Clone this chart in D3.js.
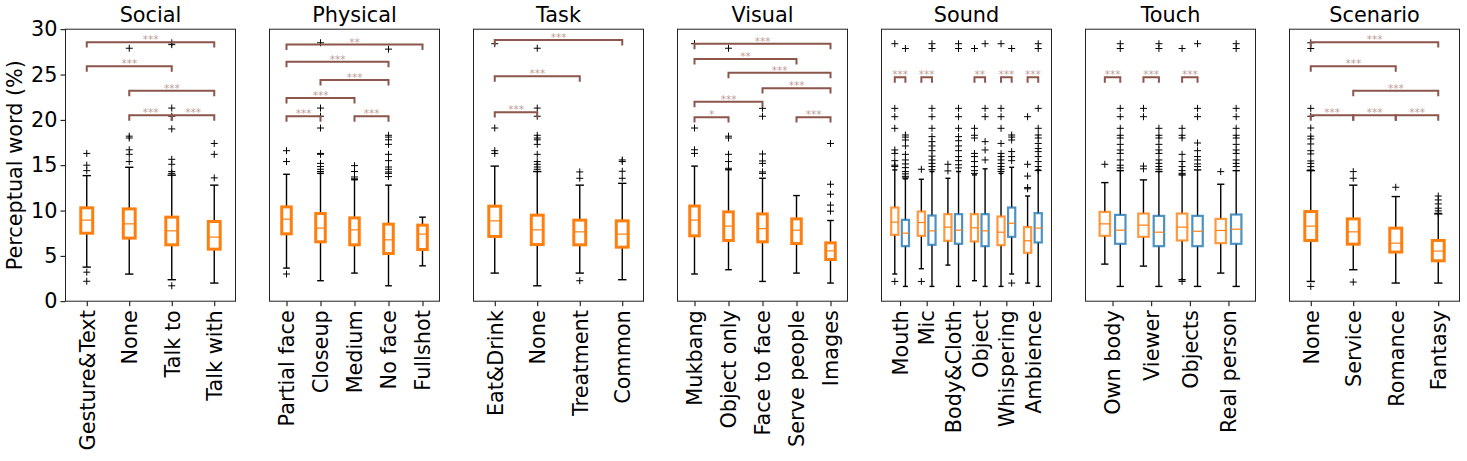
<!DOCTYPE html>
<html><head><meta charset="utf-8">
<script src="https://cdn.jsdelivr.net/npm/d3@7"></script>
<style>body{margin:0;background:#fff}svg{display:block}text{font-family:"DejaVu Sans",sans-serif}</style>
</head><body><svg id="c" width="1467" height="461"></svg>
<script>
// ---------- DATA ----------  stats rows: [whisker low, q1, median, q3, whisker high]
const yTicks = [0, 5, 10, 15, 20, 25, 30];

const socialCats = ["Gesture&Text", "None", "Talk to", "Talk with"];
const socialStats = [[3.76,7.5,8.94,10.3,13.85],[2.99,6.96,8.53,10.18,14.77],[2.37,6.22,7.76,9.27,13.9],[2.0,5.74,7.07,8.79,12.8]];
const socialFliers = [[16.3,15.0,14.4,3.2,2.2],[27.9,18.2,18.0,16.7,16.2,15.4],[28.5,28.3,21.3,20.4,19.0,15.65,15.1,14.3,14.1,1.7],[17.4,16.2,13.6]];
const socialSig = [[1,4,28.57,"***"],[1,3,25.9,"***"],[2,4,23.2,"***"],[2,3,20.5,"***"],[3,4,20.5,"***"]];

const physicalCats = ["Partial face", "Closeup", "Medium", "No face", "Fullshot"];
const physicalStats = [[3.65,7.43,9.05,10.4,14.0],[2.26,6.55,8.06,9.67,14.1],[3.1,6.22,7.87,9.19,13.4],[1.7,5.26,6.77,8.5,12.8],[3.9,5.7,7.4,8.39,9.27]];
const physicalFliers = [[16.6,15.4,3.0],[28.5,21.3,20.4,19.1,16.3,16.2,15.2,14.85,14.55,14.3],[14.95,14.3,13.7,13.5],[27.8,18.3,18.1,17.8,17.3,16.2,15.5,14.8,14.55,14.26,14.1,13.74],[]];
const physicalSig = [[1,5,28.3,"**"],[1,4,26.4,"***"],[2,4,24.4,"***"],[1,3,22.4,"***"],[1,2,20.4,"***"],[3,4,20.4,"***"]];

const taskCats = ["Eat&Drink", "None", "Treatment", "Common"];
const taskStats = [[3.1,7.14,8.86,10.48,14.9],[1.7,6.25,7.87,9.49,14.3],[3.1,6.22,7.65,8.94,12.8],[2.37,5.96,7.4,8.86,13.0]];
const taskFliers = [[28.4,19.1,16.6,16.3],[27.9,21.3,20.4,18.3,18.0,17.8,17.3,16.2,15.4,15.1,14.8,14.55],[14.26,13.56,2.26],[15.58,15.4,14.33,13.56]];
const taskSig = [[1,4,28.8,"***"],[1,3,24.8,"***"],[1,2,20.85,"***"]];

const visualCats = ["Mukbang", "Object only", "Face to face", "Serve people", "Images"];
const visualStats = [[3.0,7.21,8.94,10.5,14.9],[3.47,6.7,8.28,9.85,14.5],[2.18,6.55,8.0,9.63,13.56],[3.1,6.36,7.83,9.08,11.65],[2.0,4.6,5.56,6.44,8.9]];
const visualFliers = [[28.4,19.1,16.7,16.3],[27.9,18.2,18.0,16.2,15.4,14.66],[21.27,20.4,16.24,15.47,15.2,14.26,14.1],[],[17.4,12.9,11.8,10.6,9.93]];
const visualSig = [[1,5,28.4,"***"],[1,4,26.7,"**"],[2,5,25.2,"***"],[3,5,23.5,"***"],[1,3,22.0,"***"],[1,2,20.3,"*"],[4,5,20.3,"***"]];

const soundCats = ["Mouth", "Mic", "Body&Cloth", "Object", "Whispering", "Ambience"];
const soundOrangeStats = [[3.0,7.32,8.72,10.33,14.48],[3.58,7.21,8.68,9.89,13.45],[3.98,6.66,8.17,9.6,13.56],[2.26,6.59,8.09,9.6,13.93],[1.63,6.18,7.61,9.34,14.1],[2.0,5.34,6.66,8.17,11.6]];
const soundOrangeFliers = [[28.4,21.27,20.35,19.07,16.68,16.3,15.5,15.0,14.85,2.18],[14.55,2.18],[15.1,14.37],[27.87,19.07,18.3,18.0,16.3,15.95,15.4,14.85,14.4,14.1],[28.4,21.27,20.35,19.07,17.4,16.3,15.95,15.58,15.2,14.85,14.55,14.3],[20.35,15.1,13.8,12.53,12.4]];
const soundBlueStats = [[1.63,6.07,7.5,8.97,13.5],[1.63,6.22,7.76,9.45,14.3],[1.63,6.33,7.83,9.6,14.3],[1.63,6.07,7.76,9.6,14.6],[3.0,7.1,8.6,10.33,14.77],[1.63,6.48,8.06,9.71,14.48]];
const soundBlueFliers = [[27.87,18.33,18.1,17.78,17.12,16.2,15.58,15.14,14.73,14.29,14.04,13.77,13.6],[28.4,27.87,21.27,20.35,19.07,18.15,17.6,17.12,16.6,16.0,15.58,15.2,14.85,14.5],[28.4,27.87,21.27,20.35,19.07,18.15,17.7,17.12,16.6,15.95,15.5,15.05,14.7],[28.4,21.27,20.35,17.6,16.68,15.58],[27.87,18.33,18.1,17.78,16.5,15.95,15.5,2.0],[28.4,27.87,21.27,19.07,18.33,18.0,17.4,16.85,16.5,15.95,15.4,14.85,14.4]];
const soundSig = [[1,24.7,"***"],[2,24.7,"***"],[4,24.7,"**"],[5,24.7,"***"],[6,24.7,"***"]];

const touchCats = ["Own body", "Viewer", "Objects", "Real person"];
const touchOrangeStats = [[4.09,7.21,8.53,9.85,13.08],[3.87,7.1,8.39,9.67,13.38],[2.37,6.7,8.17,9.67,13.93],[3.1,6.4,7.8,9.08,12.9]];
const touchOrangeFliers = [[15.1],[21.27,20.35,14.9,14.6],[27.87,19.07,18.3,18.0,16.2,15.4,14.85,14.4,14.1,2.18],[14.29]];
const touchBlueStats = [[1.63,6.33,7.83,9.52,14.4],[1.63,6.07,7.61,9.41,14.3],[1.63,6.07,7.72,9.41,14.48],[1.63,6.33,7.94,9.56,14.4]];
const touchBlueFliers = [[28.4,27.87,21.27,20.35,19.07,18.3,18.0,17.3,16.68,16.3,15.58,15.0,14.7],[28.4,27.87,19.07,18.3,18.0,17.3,16.68,16.3,15.58,15.2,14.85,14.55],[28.4,21.27,20.35,17.45,16.6,15.95,15.58,15.14,14.85],[28.4,27.87,21.27,20.35,19.07,18.3,18.0,17.3,16.68,16.3,15.58,15.2,14.85]];
const touchSig = [[1,24.7,"***"],[2,24.7,"***"],[3,24.7,"***"]];

const scenarioCats = ["None", "Service", "Romance", "Fantasy"];
const scenarioStats = [[2.18,6.7,8.28,9.89,14.4],[3.47,6.29,7.65,9.08,12.8],[2.0,5.42,6.4,8.06,11.54],[2.0,4.46,5.53,6.7,9.63]];
const scenarioFliers = [[28.5,27.87,21.27,20.4,19.1,18.2,17.9,17.34,16.6,16.24,15.47,15.2,14.84,14.47,1.63],[14.29,13.56,2.11],[12.57],[11.6,11.17,10.73,10.26,9.96,9.7]];
const scenarioSig = [[1,4,28.57,"***"],[1,3,25.9,"***"],[2,4,23.2,"***"],[1,2,20.5,"***"],[2,3,20.5,"***"],[3,4,20.5,"***"]];

// ---------- LAYOUT ----------
const ORANGE = "#ff7f0e", BLUE = "#1f77b4", BROWN = "#8c564b";
const FS = 20.8;
const panels = [
  {title:"Social", cats:socialCats, single:{stats:socialStats, fliers:socialFliers}, sig:socialSig},
  {title:"Physical", cats:physicalCats, single:{stats:physicalStats, fliers:physicalFliers}, sig:physicalSig},
  {title:"Task", cats:taskCats, single:{stats:taskStats, fliers:taskFliers}, sig:taskSig},
  {title:"Visual", cats:visualCats, single:{stats:visualStats, fliers:visualFliers}, sig:visualSig},
  {title:"Sound", cats:soundCats, pair:[{stats:soundOrangeStats, fliers:soundOrangeFliers, color:ORANGE, off:-0.2},{stats:soundBlueStats, fliers:soundBlueFliers, color:BLUE, off:0.2}], sig:soundSig},
  {title:"Touch", cats:touchCats, pair:[{stats:touchOrangeStats, fliers:touchOrangeFliers, color:ORANGE, off:-0.2},{stats:touchBlueStats, fliers:touchBlueFliers, color:BLUE, off:0.2}], sig:touchSig},
  {title:"Scenario", cats:scenarioCats, single:{stats:scenarioStats, fliers:scenarioFliers}, sig:scenarioSig}
];

const svg = d3.select("#c");
const plotTop = 29.2, plotBottom = 301.2, pw = 170;
const y = d3.scaleLinear().domain([0, 30]).range([plotBottom, plotTop]);
const BH = 0.6; // bracket tip height (data units)

function drawBox(g, x, cx, s, fl, w, color, lw, op) {
  const [lo, q1, med, q3, hi] = s;
  const half = (x(cx + w / 2) - x(cx - w / 2)) / 2;
  const px = x(cx);
  const capHalf = half * 0.7;
  const wg = g.append("g").attr("stroke", "#000").attr("stroke-width", 1.4);
  wg.append("line").attr("x1", px).attr("x2", px).attr("y1", y(q3)).attr("y2", y(hi));
  wg.append("line").attr("x1", px).attr("x2", px).attr("y1", y(q1)).attr("y2", y(lo));
  wg.append("line").attr("x1", px - capHalf).attr("x2", px + capHalf).attr("y1", y(hi)).attr("y2", y(hi));
  wg.append("line").attr("x1", px - capHalf).attr("x2", px + capHalf).attr("y1", y(lo)).attr("y2", y(lo));
  g.append("rect").attr("x", px - half).attr("y", y(q3)).attr("width", 2 * half).attr("height", y(q1) - y(q3))
    .attr("fill", "none").attr("stroke", color).attr("stroke-width", lw).attr("stroke-opacity", op);
  g.append("line").attr("x1", px - half).attr("x2", px + half).attr("y1", y(med)).attr("y2", y(med))
    .attr("stroke", ORANGE).attr("stroke-width", 1.2);
  g.selectAll(null).data(fl).join("path")
    .attr("transform", v => `translate(${px},${y(v)})`)
    .attr("d", "M-3.5,0H3.5M0,-3.5V3.5").attr("stroke", "#000").attr("stroke-width", 1).attr("fill", "none");
}

function bracket(g, x1, x2, lvl, label) {
  const yb = y(lvl), yt = y(lvl - BH);
  g.append("path").attr("d", `M${x1},${yt}V${yb}H${x2}V${yt}`)
    .attr("fill", "none").attr("stroke", BROWN).attr("stroke-width", 2);
  g.append("text").attr("x", (x1 + x2) / 2).attr("y", yb + 1).attr("text-anchor", "middle")
    .attr("font-size", 10.5).attr("fill", BROWN).attr("fill-opacity", 0.6).text(label);
}

panels.forEach((p, i) => {
  const left = 65.5 + 204 * i;
  const n = p.cats.length;
  const g = svg.append("g");
  const idx = d3.range(1, n + 1);
  const x = d3.scaleLinear().domain(p.pair ? [0.3, n + 0.7] : [0.5, n + 0.5]).range([left, left + pw]);

  const xa = g.append("g").attr("transform", `translate(0,${plotBottom})`)
    .call(d3.axisBottom(x).tickValues(idx).tickFormat(d => p.cats[d - 1]).tickSize(5).tickSizeOuter(0));
  xa.select(".domain").remove();
  xa.selectAll("text").attr("font-size", FS).attr("fill", "#000")
    .attr("transform", "rotate(-90)").attr("text-anchor", "end")
    .attr("x", -9).attr("y", 0).attr("dy", "0.35em");
  if (i === 0) {
    const ya = g.append("g").attr("transform", `translate(${left},0)`)
      .call(d3.axisLeft(y).tickValues(yTicks).tickSize(5).tickSizeOuter(0));
    ya.select(".domain").remove();
    ya.selectAll("text").attr("font-size", FS).attr("fill", "#000");
  }

  if (p.single) {
    p.single.stats.forEach((s, k) => drawBox(g, x, k + 1, s, p.single.fliers[k], 0.28, ORANGE, 3, 1));
    p.sig.forEach(([a, b, lvl, lab]) => bracket(g, x(a), x(b), lvl, lab));
  } else {
    p.pair.forEach(ser => ser.stats.forEach((s, k) =>
      drawBox(g, x, k + 1 + ser.off, s, ser.fliers[k], 0.27, ser.color, 2.2, 0.8)));
    p.sig.forEach(([c, lvl, lab]) => bracket(g, x(c - 0.2), x(c + 0.2), lvl, lab));
  }

  g.append("rect").attr("x", left).attr("y", plotTop).attr("width", pw).attr("height", plotBottom - plotTop)
    .attr("fill", "none").attr("stroke", "#222").attr("stroke-width", 1);
  g.append("text").attr("x", left + pw / 2).attr("y", plotTop - 7).attr("text-anchor", "middle")
    .attr("font-size", FS).attr("fill", "#000").text(p.title);
});

svg.append("text").attr("transform", `translate(22,${(plotTop + plotBottom) / 2}) rotate(-90)`)
  .attr("text-anchor", "middle").attr("font-size", FS).attr("fill", "#000").text("Perceptual word (%)");
</script></body></html>
